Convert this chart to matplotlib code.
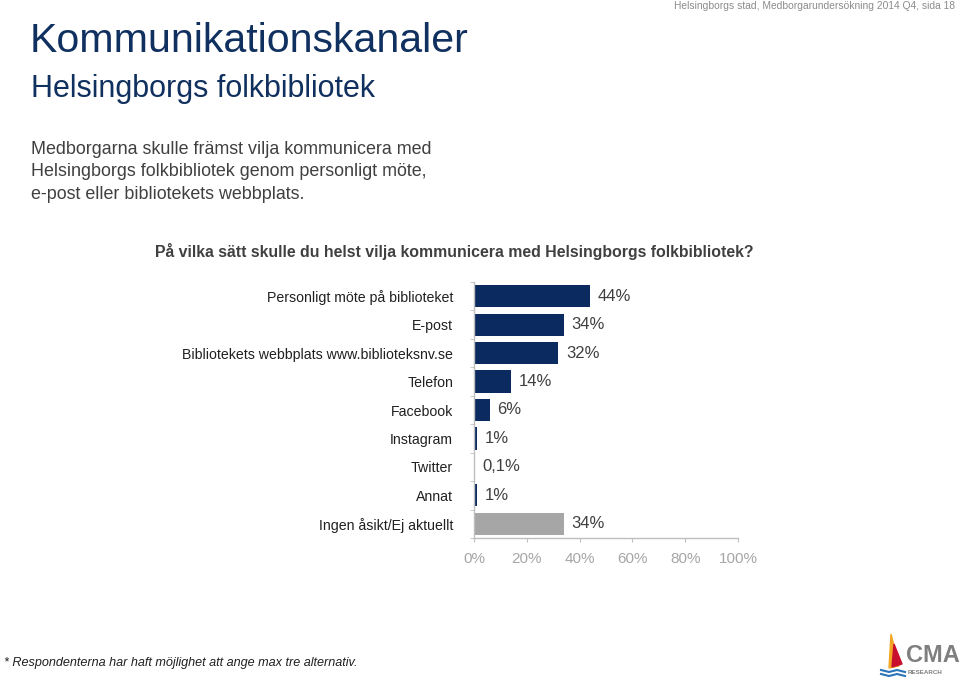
import matplotlib
matplotlib.use("Agg")
import matplotlib.pyplot as plt
from matplotlib.patches import Polygon

plt.rcParams['font.family'] = ['Liberation Sans', 'DejaVu Sans']

# data
categories = [
    "Personligt möte på biblioteket",
    "E-post",
    "Bibliotekets webbplats www.biblioteksnv.se",
    "Telefon",
    "Facebook",
    "Instagram",
    "Twitter",
    "Annat",
    "Ingen åsikt/Ej aktuellt",
]
values = [44, 34, 32, 14, 6, 1, 0.1, 1, 34]
value_labels = ["44%", "34%", "32%", "14%", "6%", "1%", "0,1%", "1%", "34%"]
x_ticks = [0, 20, 40, 60, 80, 100]
x_tick_labels = ["0%", "20%", "40%", "60%", "80%", "100%"]

navy = "#0B2A60"
grey_bar = "#A6A6A6"
title_col = "#10305F"
text_col = "#404040"
axis_col = "#BFBFBF"

fig = plt.figure(figsize=(9.6, 6.8), dpi=100)
W, H = 960, 680

def fx(px):
    return px / W

def fy(py):
    return 1 - py / H

# header texts
fig.text(fx(955), fy(6), "Helsingborgs stad, Medborgarundersökning 2014 Q4, sida 18",
         ha="right", va="center", fontsize=7.4, color="#8C8C8C")
fig.text(fx(30), fy(41), "Kommunikationskanaler", ha="left", va="center",
         fontsize=29.6, color=title_col)
fig.text(fx(31), fy(89), "Helsingborgs folkbibliotek", ha="left", va="center",
         fontsize=22, color=title_col)
fig.text(fx(31), fy(172), "Medborgarna skulle främst vilja kommunicera med\n"
         "Helsingborgs folkbibliotek genom personligt möte,\n"
         "e-post eller bibliotekets webbplats.",
         ha="left", va="center", fontsize=12.9, color=text_col, linespacing=1.4)
fig.text(fx(155), fy(251), "På vilka sätt skulle du helst vilja kommunicera med Helsingborgs folkbibliotek?",
         ha="left", va="center", fontsize=11.4, fontweight="bold", color=text_col)
fig.text(fx(4), fy(663), "* Respondenterna har haft möjlighet att ange max tre alternativ.",
         ha="left", va="center", fontsize=9.1, style="italic", color="#202020")

# bar chart
ax = fig.add_axes([fx(474), fy(538), fx(738) - fx(474), fy(282) - fy(538)])
y = list(range(len(categories)))
colors = [navy] * (len(categories) - 1) + [grey_bar]
ax.barh(y, values, height=0.78, color=colors, edgecolor="none")
for yi, v, lab in zip(y, values, value_labels):
    ax.annotate(lab, (v, yi), xytext=(5.5, 0), textcoords="offset points",
                ha="left", va="center", fontsize=12, color=text_col)

ax.set_xlim(0, 100)
ax.set_ylim(len(categories) - 0.5, -0.5)
ax.set_xticks(x_ticks)
ax.set_xticklabels(x_tick_labels, fontsize=11, color="#A6A6A6")
ax.set_yticks(y)
ax.set_yticklabels(categories, fontsize=10.2, color="#202020")
ax.set_yticks([i - 0.5 for i in range(len(categories) + 1)], minor=True)
ax.tick_params(axis="y", which="major", length=0, pad=15)
ax.tick_params(axis="y", which="minor", length=3, color=axis_col, direction="out")
ax.tick_params(axis="x", length=3, color=axis_col, pad=7)
for side in ["top", "right"]:
    ax.spines[side].set_visible(False)
for side in ["left", "bottom"]:
    ax.spines[side].set_color(axis_col)
    ax.spines[side].set_linewidth(1)

# logo
logo = fig.add_axes([fx(875), fy(678), fx(85), fy(630) - fy(678)])
logo.set_xlim(0, 85)
logo.set_ylim(0, 48)
logo.axis("off")
logo.add_patch(Polygon([[14, 10], [16, 44], [24, 12]], closed=True, color="#F2A623"))
logo.add_patch(Polygon([[17, 11], [19, 34], [27, 14]], closed=True, color="#C8102E"))
logo.plot([6, 14, 22, 30], [8, 6, 8, 6], color="#2A75B8", lw=1.5)
logo.plot([6, 14, 22, 30], [4, 2, 4, 2], color="#2A75B8", lw=1.5)
logo.text(31, 22, "CMA", fontsize=17, fontweight="bold", color="#7F7F7F", va="center", ha="left")
logo.text(33, 6, "RESEARCH", fontsize=4.5, fontweight="bold", color="#7F7F7F", va="center", ha="left")

fig.savefig("out.png", dpi=100)
